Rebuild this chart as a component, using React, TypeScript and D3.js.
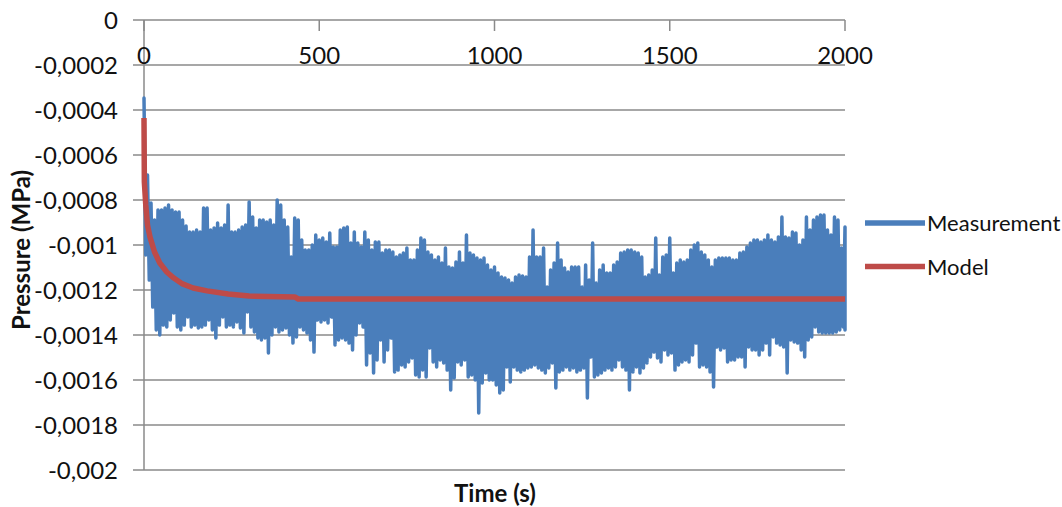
import React from "react";
import * as d3 from "d3";

// Sampling step (s) of the measurement envelope records below
const MEAS_STEP = 10;

// Measured pressure (MPa): upper extreme of each 10 s window, t = 0 … 2000 s
const measUpper: number[] = [
  -0.000347, -0.000689, -0.000813, -0.000889, -0.000844, -0.000844, -0.000836, -0.000822, -0.000844, -0.000853,
  -0.000853, -0.000889, -0.000916, -0.000942, -0.000942, -0.000933, -0.000942, -0.000836, -0.000836, -0.000933,
  -0.000924, -0.000902, -0.000924, -0.000911, -0.000822, -0.000942, -0.000942, -0.000933, -0.00092, -0.000911,
  -0.000809, -0.000876, -0.000924, -0.000889, -0.000889, -0.000898, -0.000889, -0.000911, -0.0008, -0.000822,
  -0.000889, -0.00092, -0.001053, -0.00088, -0.000889, -0.000978, -0.001022, -0.001022, -0.001, -0.000956,
  -0.000978, -0.000969, -0.000987, -0.000947, -0.001009, -0.001009, -0.000933, -0.000924, -0.00092, -0.000991,
  -0.000942, -0.000991, -0.001009, -0.000942, -0.000978, -0.001022, -0.000987, -0.000987, -0.001036, -0.001022,
  -0.001022, -0.001031, -0.001053, -0.001044, -0.001036, -0.001013, -0.001067, -0.001067, -0.001022, -0.000969,
  -0.000978, -0.001031, -0.001044, -0.001067, -0.001053, -0.00108, -0.001013, -0.001098, -0.001102, -0.001076,
  -0.001031, -0.00108, -0.000956, -0.001036, -0.001044, -0.001058, -0.001067, -0.001058, -0.001089, -0.001111,
  -0.001098, -0.001124, -0.001142, -0.001147, -0.001156, -0.001169, -0.001142, -0.001133, -0.001138, -0.001142,
  -0.001053, -0.000933, -0.001053, -0.001053, -0.001013, -0.001187, -0.001111, -0.00108, -0.000991, -0.001067,
  -0.001102, -0.00112, -0.001098, -0.001098, -0.001098, -0.001187, -0.001089, -0.001156, -0.000991, -0.001169,
  -0.001111, -0.001089, -0.001124, -0.001124, -0.001089, -0.001076, -0.001036, -0.001031, -0.001022, -0.001022,
  -0.001031, -0.001036, -0.001053, -0.001142, -0.001133, -0.001111, -0.000969, -0.001133, -0.001053, -0.001044,
  -0.000969, -0.001124, -0.00108, -0.001067, -0.001076, -0.001067, -0.001022, -0.001, -0.000991, -0.001031,
  -0.001044, -0.001067, -0.001098, -0.001067, -0.001058, -0.001058, -0.001058, -0.001058, -0.001067, -0.001067,
  -0.001036, -0.001031, -0.001009, -0.000991, -0.000978, -0.000978, -0.000987, -0.000978, -0.000956, -0.000978,
  -0.000987, -0.000964, -0.000876, -0.000964, -0.000969, -0.000942, -0.000947, -0.001, -0.000978, -0.000876,
  -0.000933, -0.000889, -0.000876, -0.000867, -0.000867, -0.000933, -0.000956, -0.000876, -0.000889, -0.001013,
  -0.00092,
];

// Measured pressure (MPa): lower extreme of each 10 s window, t = 0 … 2000 s
const measLower: number[] = [
  -0.001044, -0.001156, -0.001276, -0.001378, -0.0014, -0.001356, -0.001364, -0.001333, -0.001302, -0.001364,
  -0.001378, -0.001356, -0.00132, -0.001364, -0.001356, -0.001369, -0.001364, -0.001356, -0.001333, -0.001378,
  -0.001413, -0.001356, -0.00132, -0.001364, -0.001356, -0.001364, -0.001342, -0.001369, -0.001391, -0.001298,
  -0.001364, -0.001387, -0.001413, -0.001422, -0.001413, -0.00148, -0.0014, -0.001364, -0.001387, -0.001378,
  -0.001369, -0.0014, -0.001436, -0.001409, -0.001364, -0.001378, -0.001391, -0.001422, -0.001476, -0.001333,
  -0.001342, -0.001333, -0.001347, -0.00132, -0.001444, -0.001422, -0.001413, -0.001422, -0.001436, -0.001467,
  -0.0014, -0.001347, -0.001364, -0.001533, -0.00148, -0.001569, -0.001511, -0.001422, -0.00152, -0.001467,
  -0.001413, -0.001564, -0.001556, -0.001533, -0.001542, -0.00152, -0.001502, -0.001578, -0.001587, -0.001556,
  -0.001587, -0.001458, -0.00152, -0.001542, -0.001511, -0.001524, -0.001556, -0.001644, -0.001591, -0.00152,
  -0.001533, -0.001511, -0.001587, -0.001578, -0.0016, -0.001747, -0.001613, -0.001569, -0.0016, -0.0016,
  -0.001622, -0.001658, -0.001644, -0.001542, -0.001609, -0.001542, -0.001556, -0.001564, -0.001556, -0.001547,
  -0.001542, -0.001533, -0.001547, -0.001556, -0.001569, -0.001547, -0.001524, -0.001636, -0.001564, -0.001556,
  -0.001542, -0.001556, -0.001547, -0.001564, -0.001556, -0.001547, -0.00168, -0.001498, -0.001587, -0.001578,
  -0.001569, -0.001556, -0.001547, -0.001556, -0.001542, -0.001511, -0.001542, -0.001556, -0.001644, -0.001564,
  -0.001542, -0.001569, -0.001547, -0.001524, -0.001498, -0.001476, -0.001502, -0.00152, -0.001467, -0.001489,
  -0.00148, -0.001556, -0.001533, -0.00152, -0.001511, -0.00152, -0.001489, -0.001436, -0.001542, -0.001533,
  -0.001542, -0.001564, -0.001631, -0.001453, -0.001467, -0.001458, -0.00152, -0.001511, -0.001511, -0.001498,
  -0.001498, -0.001542, -0.001453, -0.001467, -0.001467, -0.001489, -0.001467, -0.001436, -0.001489, -0.001409,
  -0.001436, -0.001444, -0.001453, -0.001569, -0.001422, -0.001431, -0.001436, -0.001467, -0.001498, -0.001422,
  -0.001409, -0.001364, -0.001387, -0.001391, -0.001391, -0.001391, -0.001391, -0.001387, -0.001378, -0.001364,
  -0.001378,
];

// Model curve (time in s, pressure in MPa)
const modelTime: number[] = [0, 1, 5, 10, 17, 30, 45, 65, 85, 110, 140, 180, 240, 300, 430, 440, 2000];
const modelPressure: number[] = [
  -0.000436, -0.00072, -0.000822, -0.000911, -0.000964, -0.001031, -0.00108, -0.00112, -0.001147, -0.001173,
  -0.001191, -0.001204, -0.001218, -0.001227, -0.001231, -0.00124, -0.00124,
];

// Axis ticks
const xTicks: number[] = [0, 500, 1000, 1500, 2000];
const yTicks: number[] = [0, -0.0002, -0.0004, -0.0006, -0.0008, -0.001, -0.0012, -0.0014, -0.0016, -0.0018, -0.002];
const yTickLabels: string[] = [
  "0", "-0,0002", "-0,0004", "-0,0006", "-0,0008", "-0,001", "-0,0012", "-0,0014", "-0,0016", "-0,0018", "-0,002",
];

// Legend entries
const seriesNames: string[] = ["Measurement", "Model"];
const seriesColors: string[] = ["#4a7ebb", "#be4b48"];

const W = 1062;
const H = 507;
const plot = { left: 144, right: 845, top: 20, bottom: 470 };
const FONT = "Lato, 'Open Sans', sans-serif";
const GRID = "#8a8a8a";

export default function App() {
  const x = d3.scaleLinear().domain([0, 2000]).range([plot.left, plot.right]);
  const y = d3.scaleLinear().domain([0, -0.002]).range([plot.top, plot.bottom]);

  // The measurement alternates between each window's upper and lower extreme
  const measPts: [number, number][] = [];
  measUpper.forEach((u, i) => {
    const t = i * MEAS_STEP;
    measPts.push([t, u]);
    measPts.push([Math.min(t + MEAS_STEP / 2, 2000), measLower[i]]);
  });
  const modelPts: [number, number][] = modelTime.map((t, i) => [t, modelPressure[i]]);

  const line = d3
    .line<[number, number]>()
    .x((d) => x(d[0]))
    .y((d) => y(d[1]));

  const tickLen = 11;

  return (
    <svg
      width={W}
      height={H}
      style={{ position: "absolute", left: 0, top: 0, background: "#fff" }}
      fontFamily={FONT}
    >
      <rect x={0} y={0} width={W} height={H} fill="#fff" />

      {/* horizontal gridlines with outside ticks */}
      {yTicks.map((v) => (
        <line
          key={"g" + v}
          x1={plot.left - tickLen}
          x2={plot.right}
          y1={y(v)}
          y2={y(v)}
          stroke={GRID}
          strokeWidth={1.5}
        />
      ))}

      {/* vertical axis */}
      <line x1={plot.left} x2={plot.left} y1={plot.top} y2={plot.bottom} stroke={GRID} strokeWidth={1.5} />

      {/* horizontal axis ticks (axis sits on y = 0) */}
      {xTicks.map((t) => (
        <line
          key={"xt" + t}
          x1={x(t)}
          x2={x(t)}
          y1={y(0)}
          y2={y(0) + tickLen}
          stroke={GRID}
          strokeWidth={1.5}
        />
      ))}

      {/* series */}
      <path
        d={line(measPts) || ""}
        fill="none"
        stroke={seriesColors[0]}
        strokeWidth={3.5}
        strokeLinejoin="round"
        strokeLinecap="round"
      />
      <path
        d={line(modelPts) || ""}
        fill="none"
        stroke={seriesColors[1]}
        strokeWidth={5.5}
        strokeLinejoin="round"
      />

      {/* y tick labels */}
      {yTicks.map((v, i) => (
        <text key={"yl" + v} x={118} y={y(v) + 8.5} textAnchor="end" fontSize={24} fill="#111">
          {yTickLabels[i]}
        </text>
      ))}

      {/* x tick labels */}
      {xTicks.map((t) => (
        <text key={"xl" + t} x={x(t)} y={64} textAnchor="middle" fontSize={24} fill="#111">
          {t}
        </text>
      ))}

      {/* axis titles */}
      <text
        transform={`translate(30, 250) rotate(-90)`}
        textAnchor="middle"
        fontSize={24}
        fontWeight="bold"
        fill="#111"
      >
        Pressure (MPa)
      </text>
      <text x={495} y={502} textAnchor="middle" fontSize={24} fontWeight="bold" fill="#111">
        Time (s)
      </text>

      {/* legend */}
      {seriesNames.map((name, i) => {
        const ly = 223 + i * 43.5;
        return (
          <g key={name}>
            <line x1={865} x2={925} y1={ly} y2={ly} stroke={seriesColors[i]} strokeWidth={5.5} />
            <text x={927} y={ly + 8} fontSize={22} fill="#111">
              {name}
            </text>
          </g>
        );
      })}
    </svg>
  );
}
